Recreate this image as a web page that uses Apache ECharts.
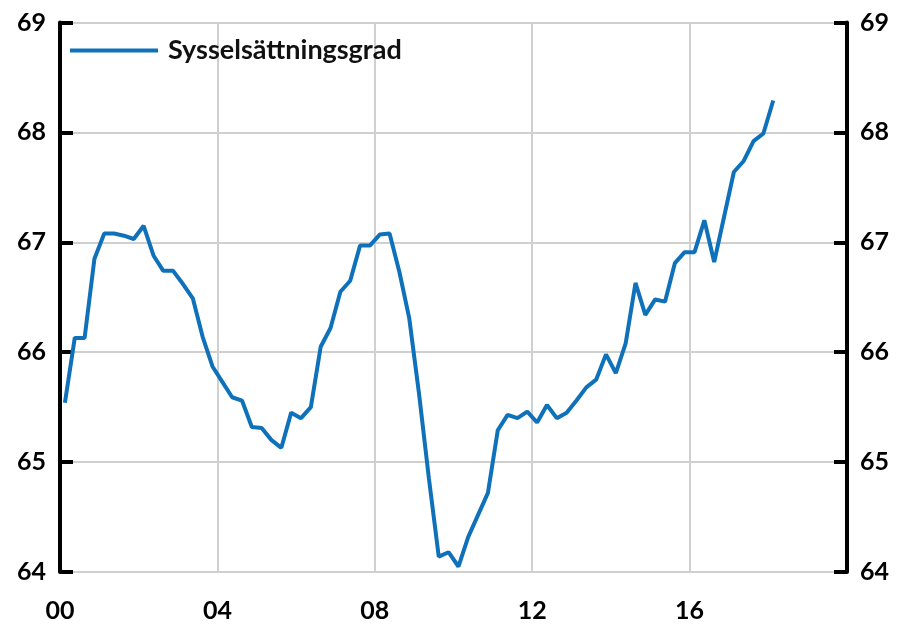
<!DOCTYPE html>
<html lang="sv">
<head>
<meta charset="utf-8">
<title>Sysselsättningsgrad</title>
<script src="https://cdn.jsdelivr.net/npm/echarts@6/dist/echarts.min.js"></script>
<style>
  html, body { margin: 0; padding: 0; background: #fff; }
  #main { width: 897px; height: 624px; }
</style>
</head>
<body>
<div id="main"></div>
<script>
// kvartal 2000K1 - 2018K1
var quarters = [];
for (var y = 2000; y <= 2018; y++) {
  for (var q = 1; q <= 4; q++) {
    if (y === 2018 && q > 1) break;
    quarters.push(y + 'K' + q);
  }
}

var sysselsattningsgrad = [
  65.54, 66.13, 66.13, 66.85, 67.08, 67.08, 67.06, 67.03,
  67.15, 66.88, 66.74, 66.74, 66.62, 66.49, 66.14, 65.87,
  65.73, 65.59, 65.56, 65.32, 65.31, 65.20, 65.13, 65.45,
  65.40, 65.50, 66.05, 66.22, 66.55, 66.65, 66.97, 66.97,
  67.07, 67.08, 66.73, 66.31, 65.62, 64.85, 64.14, 64.18,
  64.05, 64.32, 64.52, 64.72, 65.29, 65.43, 65.40, 65.46,
  65.36, 65.52, 65.40, 65.45, 65.56, 65.68, 65.75, 65.98,
  65.81, 66.08, 66.63, 66.34, 66.48, 66.46, 66.81, 66.91,
  66.91, 67.20, 66.82, 67.23, 67.64, 67.74, 67.92, 67.99,
  68.29
];

var yTicks = [64, 65, 66, 67, 68, 69];
var xTicks = [2000, 2004, 2008, 2012, 2016, 2020];

// kvartal -> position mitt i kvartalet
var points = quarters.map(function (k, i) {
  var yr = parseInt(k.slice(0, 4), 10);
  var qq = parseInt(k.slice(5), 10);
  return [yr + (qq - 0.5) / 4, sysselsattningsgrad[i]];
});

var font = 'Lato, "Open Sans", "DejaVu Sans", sans-serif';

function yAxis(pos) {
  return {
    type: 'value',
    position: pos,
    min: yTicks[0],
    max: yTicks[yTicks.length - 1],
    interval: 1,
    axisLine: { show: true, lineStyle: { color: '#000', width: 4 } },
    axisTick: { show: true, inside: true, length: 13, lineStyle: { color: '#000', width: 4 } },
    axisLabel: {
      color: '#000', fontFamily: font, fontWeight: 'bold', fontSize: 25,
      margin: pos === 'left' ? 14 : 13
    },
    splitLine: { show: pos === 'left', lineStyle: { color: '#d0d0d0', width: 2 } }
  };
}

var myChart = echarts.init(document.getElementById('main'));
var option = {
  animation: false,
  grid: { left: 60, right: 50, top: 22.5, bottom: 52, containLabel: false },
  legend: {
    data: ['Sysselsättningsgrad'],
    left: 70,
    top: 37,
    padding: 0,
    icon: 'rect',
    itemWidth: 88,
    itemHeight: 4,
    textStyle: { color: '#111', fontFamily: font, fontWeight: 'bold', fontSize: 27, padding: [0, 0, 0, 5] }
  },
  xAxis: {
    type: 'value',
    min: xTicks[0],
    max: xTicks[xTicks.length - 1],
    interval: 4,
    axisLine: { show: false },
    axisTick: { show: false },
    axisLabel: {
      color: '#000', fontFamily: font, fontWeight: 'bold', fontSize: 25, margin: 26,
      formatter: function (v) {
        if (v >= 2020) return '';
        var s = String(v % 100);
        return s.length < 2 ? '0' + s : s;
      }
    },
    splitLine: { show: true, lineStyle: { color: '#d0d0d0', width: 2 } }
  },
  yAxis: [yAxis('left'), yAxis('right')],
  series: [{
    name: 'Sysselsättningsgrad',
    type: 'line',
    data: points,
    showSymbol: false,
    symbol: 'none',
    lineStyle: { color: '#0E71BA', width: 4 },
    itemStyle: { color: '#0E71BA' }
  }]
};
myChart.setOption(option);
window.addEventListener('resize', function () { myChart.resize(); });
</script>
</body>
</html>
